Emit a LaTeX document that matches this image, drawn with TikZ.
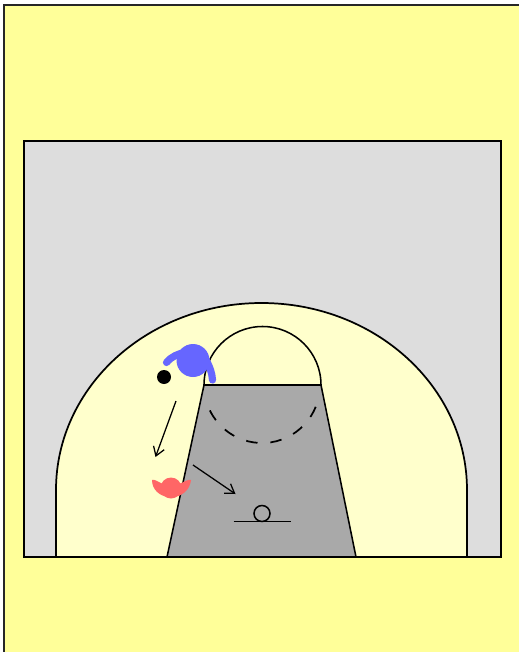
\documentclass[tikz,border=0pt]{standalone}
\usetikzlibrary{arrows.meta}
\definecolor{pagey}{HTML}{FFFF99}
\definecolor{courtg}{HTML}{DDDDDD}
\definecolor{areay}{HTML}{FFFFCC}
\definecolor{keyg}{HTML}{A9A9A9}
\definecolor{blueP}{HTML}{6666FF}
\definecolor{redP}{HTML}{FF6666}
\tikzset{
  ln/.style={draw=black,line width=1.3pt},
  thin ln/.style={draw=black,line width=1.15pt},
  arm/.style={line width=5.4pt,line cap=round},
  move/.style={draw=black,line width=.95pt,-{Straight Barb[length=6.5pt,width=8.5pt,line width=.95pt]}}
}
\begin{document}
\begin{tikzpicture}[x=.75pt,y=-.75pt]
\useasboundingbox (0,0) rectangle (519,652);
\fill[white] (0,0) rectangle (519,652);
% page
\fill[pagey] (4,5) rectangle (519,652);
\draw[black!85,line width=1.9pt] (4,652) -- (4,5) -- (519,5);
% court
\fill[courtg] (24,141) rectangle (501,557);
% three point area
\path[fill=areay,ln] (56,557) -- (56,490) arc[start angle=180,end angle=360,x radius=205.5,y radius=187] -- (467,557);
% restricted semicircle and key
\path[fill=areay,thin ln] (204,385) arc[start angle=180,end angle=360,radius=58.5];
\path[fill=keyg] (204,385) -- (321,385) -- (356,557) -- (167,557) -- cycle;
\draw[thin ln] (167,557) -- (204,385) -- (321,385) -- (356,557);
\draw[thin ln,line width=1.5pt] (204,385) -- (321,385);
\draw[ln] (24,557) -- (24,141) -- (501,141) -- (501,557) -- cycle;
% dashed arc
\draw[thin ln,line width=1.3pt,dash pattern=on 8.6pt off 9.7pt] (262,385) ++(154:58) arc[start angle=154,end angle=22,radius=58];
% hoop
\draw[thin ln] (262,513.5) circle[radius=8];
\coordinate (bbL) at (233.5,521.5);
\coordinate (bbR) at (291,521.5);
\draw[thin ln] (bbL) -- (bbR);
% ball
\node[circle,fill=black,inner sep=0pt,minimum size=10.5pt] (ball) at (164,377) {};
% blue player
\fill[blueP] (193,360.5) circle[radius=16.5];
\draw[blueP,arm] (166.5,362.5) .. controls (172,356) and (178,354) .. (186,352);
\draw[blueP,arm] (206,360) .. controls (210,367) and (212,373) .. (212.5,380);
% red player
\fill[redP] (171,488) circle[radius=10.5];
\fill[redP] (152,480) .. controls (155,479) and (158,482) .. (163,484) -- (168,497) .. controls (160,496) and (152,490) .. (152,480) -- cycle;
\fill[redP] (191,480) .. controls (188,479) and (184,482) .. (179,484) -- (174,497) .. controls (182,496) and (190,490) .. (191,480) -- cycle;
% moves
\coordinate (a1) at (176,401);
\coordinate (a2) at (155.5,457);
\coordinate (b1) at (193,465);
\coordinate (b2) at (235.5,494);
\draw[move] (a1) -- (a2);
\draw[move] (b1) -- (b2);
\end{tikzpicture}
\end{document}
